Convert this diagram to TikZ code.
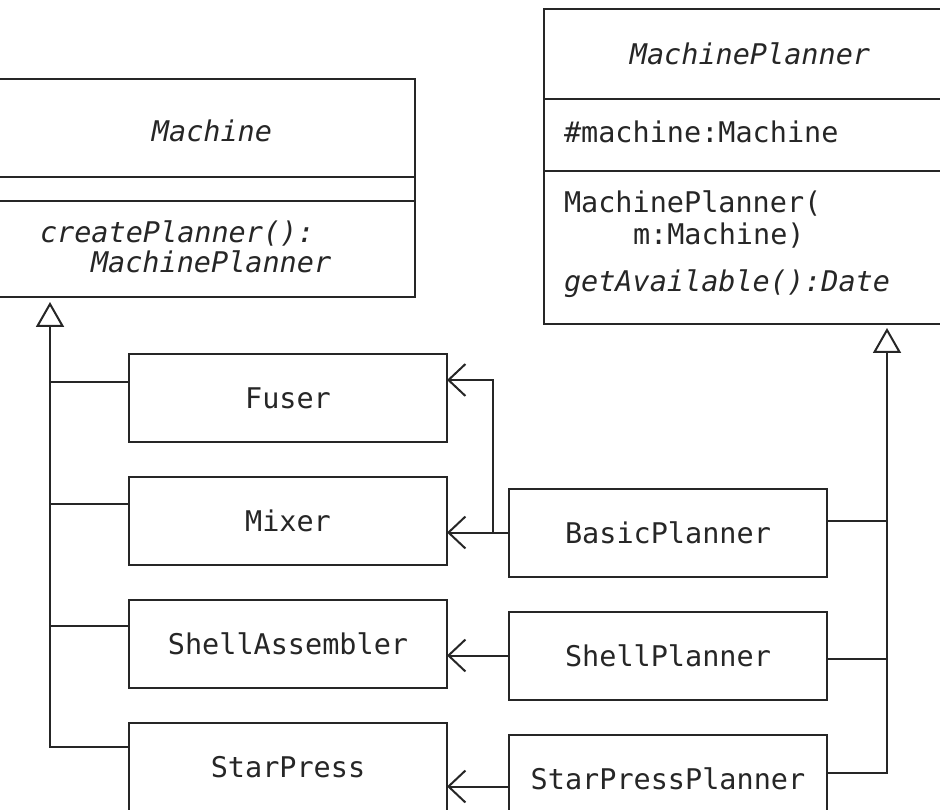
\documentclass[tikz,border=0pt]{standalone}
\usepackage{fontspec}
\usepackage{tikz}
\usetikzlibrary{arrows.meta}
\usetikzlibrary{positioning}
\newfontfamily\umlfont{DejaVu Sans Mono}
\newcommand{\umlsize}{\fontsize{28.5}{30}\selectfont}

\tikzset{
  box/.style={draw, line width=2pt, minimum width=318pt, minimum height=88pt,
    inner sep=0pt, outer sep=0pt, font=\umlfont\umlsize},
  member/.style={anchor=base west, inner sep=0pt, font=\umlfont\umlsize},
  classname/.style={anchor=base, inner sep=0pt, font=\umlfont\umlsize\itshape},
  gen/.style={-{Triangle[open, length=25pt, width=28pt]}},
  assoc/.style={-{Straight Barb[length=17pt, width=32pt]}},
}

\begin{document}
\begin{tikzpicture}[x=1pt, y=-1pt, node distance=35pt, line width=2pt, black!85]
  \useasboundingbox (0,0) rectangle (940,810);
  \clip (0,0) rectangle (940,810);

  % abstract classes, cut off by the page edge
  \node[box, minimum width=420pt, minimum height=218pt] (machine) at (205,188) {};
  \draw (machine.west |- 0,177) -- (machine.east |- 0,177);
  \draw (machine.west |- 0,201) -- (machine.east |- 0,201);
  \node[classname] (machineName) at (212,142) {Machine};
  \node[member, font=\umlfont\umlsize\itshape] (machineOpA) at (39,243) {createPlanner():};
  \node[member, font=\umlfont\umlsize\itshape] (machineOpB) at (90,273) {MachinePlanner};

  \node[box, minimum width=416pt, minimum height=315pt] (planner) at (752,166.5) {};
  \draw (planner.west |- 0,99) -- (planner.east |- 0,99);
  \draw (planner.west |- 0,171) -- (planner.east |- 0,171);
  \node[classname] (plannerName) at (750,65) {MachinePlanner};
  \node[member] (plannerAttr) at (563,143) {\#machine:Machine};
  \node[member] (plannerOpA) at (563,213) {MachinePlanner(};
  \node[member] (plannerOpB) at (632,245) {m:Machine)};
  \node[member, font=\umlfont\umlsize\itshape] (plannerOpC) at (563,292) {getAvailable():Date};

  % concrete machines
  \node[box] (fuser) at (288,398) {Fuser};
  \node[box, below=of fuser] (mixer) {Mixer};
  \node[box, below=of mixer] (shellAsm) {ShellAssembler};
  \node[box, below=of shellAsm] (starPress) {StarPress};

  % concrete planners
  \node[box, right=62pt of mixer, yshift=-11.5pt] (basicPl) {BasicPlanner};
  \node[box, below=of basicPl] (shellPl) {ShellPlanner};
  \node[box, below=of shellPl] (starPressPl) {StarPressPlanner};

  % inheritance trees
  \coordinate (tipL) at ([yshift=-5pt]machine.south -| 50,0);
  \coordinate (tipR) at ([yshift=-4pt]planner.south -| 887,0);
  \draw[gen] ([yshift=20pt]starPress.west) -| (tipL);
  \draw ([yshift=16pt]fuser.west) -- ([yshift=16pt]fuser.west -| tipL);
  \draw ([yshift=17pt]mixer.west) -- ([yshift=17pt]mixer.west -| tipL);
  \draw ([yshift=18pt]shellAsm.west) -- ([yshift=18pt]shellAsm.west -| tipL);
  \draw[gen] ([yshift=6pt]starPressPl.east) -| (tipR);
  \draw ([yshift=12pt]basicPl.east) -- ([yshift=12pt]basicPl.east -| tipR);
  \draw ([yshift=-3pt]shellPl.east) -- ([yshift=-3pt]shellPl.east -| tipR);

  % planner -> machine
  \coordinate (fork) at (basicPl.west -| 493,0);
  \draw[assoc] (basicPl.west) -- (basicPl.west -| mixer.east);
  \draw[assoc] (fork) |- ([yshift=18pt]fuser.east);
  \draw[assoc] (shellPl.west) -- (shellPl.west -| shellAsm.east);
  \draw[assoc] ([yshift=-8pt]starPressPl.west) -- ([yshift=-8pt]starPressPl.west -| starPress.east);
\end{tikzpicture}
\end{document}
